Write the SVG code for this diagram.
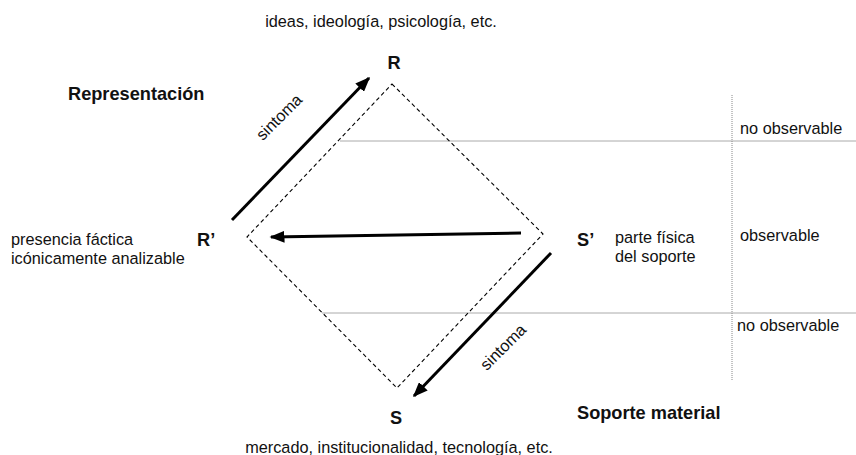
<svg xmlns="http://www.w3.org/2000/svg" width="856" height="455" viewBox="0 0 856 455">
<style>
text{font-family:"Liberation Sans",Arial,sans-serif;font-size:16.3px;fill:#111}
.b{font-weight:bold;font-size:18.2px}
.g{stroke:#aaa;stroke-width:1;fill:none}
.a{stroke:#000;stroke-width:3;fill:none;marker-end:url(#ah)}
</style>
<defs>
<marker id="ah" markerWidth="5" markerHeight="4" refX="4.5" refY="2" orient="auto" markerUnits="strokeWidth">
<path d="M0,0 L5,2 L0,4 Z" fill="#000"/>
</marker>
</defs>
<rect width="856" height="455" fill="#fff"/>
<g id="guides">
<line class="g" x1="340" y1="141" x2="856" y2="141"/>
<line class="g" x1="322" y1="313" x2="856" y2="313"/>
<line x1="732" y1="95" x2="732" y2="380" stroke="#888" stroke-width="1" stroke-dasharray="1,1"/>
</g>
<g id="diamond">
<polygon points="392,84 543,234 397,388 247,237" fill="none" stroke="#000" stroke-width="1.1" stroke-dasharray="4,3"/>
</g>
<g id="connectors">
<line class="a" x1="232" y1="220" x2="369" y2="78"/>
<line class="a" x1="521" y1="233" x2="271" y2="237"/>
<line class="a" x1="551" y1="253" x2="414" y2="396"/>
</g>
<g id="labels">
<text x="381" y="27" text-anchor="middle">ideas, ideología, psicología, etc.</text>
<text class="b" x="394" y="69" text-anchor="middle">R</text>
<text class="b" x="68" y="100">Representación</text>
<text x="283" y="121" text-anchor="middle" transform="rotate(-45 283 121)">sintoma</text>
<text x="740" y="134">no observable</text>
<text x="740" y="241">observable</text>
<text x="737" y="331">no observable</text>
<text class="b" x="197" y="246">R’</text>
<text class="b" x="577" y="246">S’</text>
<text x="615" y="243">parte física</text>
<text x="615" y="262">del soporte</text>
<text x="11" y="245">presencia fáctica</text>
<text x="11" y="264">icónicamente analizable</text>
<text x="507" y="351" text-anchor="middle" transform="rotate(-45 507 351)">sintoma</text>
<text class="b" x="396" y="424" text-anchor="middle">S</text>
<text class="b" x="577" y="419">Soporte material</text>
<text x="399" y="453" text-anchor="middle">mercado, institucionalidad, tecnología, etc.</text>
</g>
</svg>
